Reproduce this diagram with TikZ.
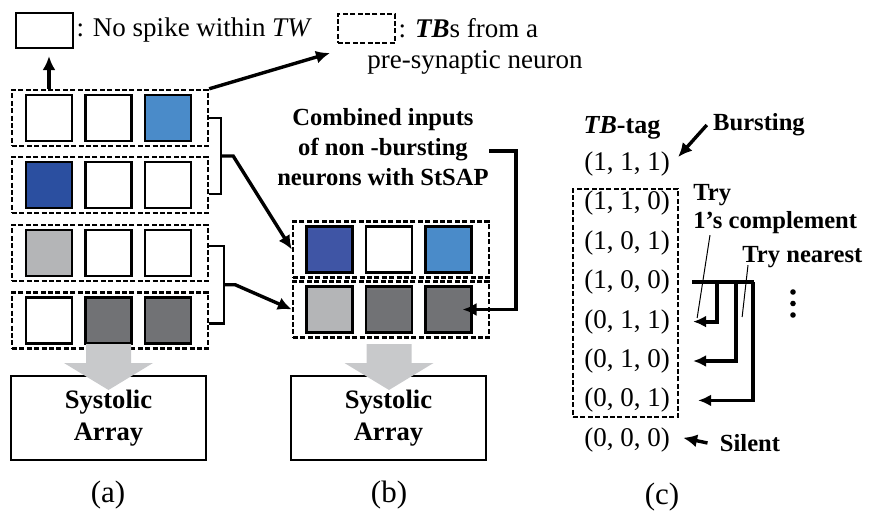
\documentclass[tikz,border=0pt]{standalone}
\usepackage{fontspec}
\setmainfont{Liberation Serif}
\usetikzlibrary{arrows.meta}

\definecolor{lblue}{RGB}{74,139,201}
\definecolor{dblue}{RGB}{43,79,160}
\definecolor{mblue}{RGB}{63,85,165}
\definecolor{lgray}{RGB}{180,181,183}
\definecolor{dgray}{RGB}{113,114,117}
\definecolor{flowgray}{RGB}{200,201,203}

\begin{document}
\begin{tikzpicture}[x=0.5pt, y=-0.5pt,
    cell/.style={draw, line width=1.4pt, minimum size=23pt, inner sep=0pt},
    tb/.style={draw, line width=1.2pt, dash pattern=on 2.5pt off 1.2pt, minimum width=98pt, minimum height=28pt, inner sep=0pt},
    conn/.style={line width=1.7pt, -{Latex[length=7pt,width=6.5pt]}},
    brk/.style={line width=1.1pt},
    hop/.style={line width=1.9pt},
    call/.style={line width=0.5pt},
    txt/.style={font=\fontsize{13.5}{16}\selectfont, inner sep=0pt},
    lbl/.style={font=\fontsize{12.3}{15}\selectfont\bfseries, inner sep=0pt, align=center},
    sys/.style={draw, line width=1.1pt, minimum width=97.5pt, minimum height=42pt, align=center, font=\fontsize{13.3}{16}\selectfont\bfseries},
    sub/.style={font=\fontsize{15.5}{18}\selectfont, inner sep=0pt}]
  \useasboundingbox (0,0) rectangle (879,515);

  % legend
  \node[draw, line width=1.1pt, minimum width=28.5pt, minimum height=17.5pt] (nospike) at (44.5,30.5) {};
  \node[txt, anchor=west] (nospiketxt) at ([xshift=1pt]nospike.east) {: No spike within \textit{TW}};
  \node[tb, minimum width=28.5pt, minimum height=14.5pt] (tbkey) at (366.5,28.5) {};
  \node[txt, anchor=west] (tbkeytxt) at ([xshift=1pt]tbkey.east) {: \textbf{\textit{TB}}s from a};
  \node[txt, anchor=west] (tbkeytxt2) at (367,62) {pre-synaptic neuron};

  % (a) TBs of four neurons
  \foreach \r/\y/\ca/\cb/\cc in {1/118/white/white/lblue, 2/185/dblue/white/white, 3/253/lgray/white/white, 4/320.5/white/dgray/dgray}{
    \node[cell, fill=\ca] (a\r1) at (49,\y) {};
    \node[cell, fill=\cb] (a\r2) at (108.5,\y) {};
    \node[cell, fill=\cc] (a\r3) at (168,\y) {};
    \node[tb] (ra\r) at (110,\y) {};
  }

  % (b) combined inputs
  \foreach \r/\y/\ca/\cb/\cc in {1/249.5/mblue/white/lblue, 2/309.5/lgray/dgray/dgray}{
    \node[cell, fill=\ca] (b\r1) at (329.5,\y) {};
    \node[cell, fill=\cb] (b\r2) at (389,\y) {};
    \node[cell, fill=\cc] (b\r3) at (448.5,\y) {};
    \node[tb] (rb\r) at (391,\y) {};
  }

  \draw[conn, shorten >=3.5pt] (a11 |- ra1.north) -- (a11 |- nospike.south);
  \coordinate (tbtip) at (330,53);
  \draw[conn] (ra1.north east) -- (tbtip);

  % brackets
  \draw[brk] (ra1.east) -- ++(12,0) |- ([yshift=-4.5pt]ra2.east) coordinate[pos=0.25] (bra);
  \draw[brk] ([yshift=3.5pt]ra3.east) -- ++(15,0) |- ([yshift=-1.5pt]ra4.east) coordinate[pos=0.25] (brb);
  \draw[conn] (bra) -- ++(12,0) -- (rb1.west);
  \draw[conn] (brb) -- ++(11,0) -- (rb2.west);

  \node[lbl] (comb) at (383,147) {Combined inputs\\of non -bursting\\neurons with StSAP};
  \draw[conn] ([yshift=-2pt]comb.east) -- ++(27,0) |- ([xshift=7pt]b23.center);

  % systolic arrays
  \node[sys] (sysa) at (108.5,418) {Systolic\\Array};
  \node[sys] (sysb) at (388.5,418) {Systolic\\Array};
  \foreach \cx in {108.5, 389}
    \fill[flowgray] (\cx-22.5,344) -- (\cx+22.5,344) -- (\cx+22.5,363) -- (\cx+44.5,363) -- (\cx,390) -- (\cx-44.5,363) -- (\cx-22.5,363) -- cycle;

  \node[sub] (capa) at (108,495) {(a)};
  \node[sub] (capb) at (389,495) {(b)};

  % (c) TB-tags
  \node[font=\fontsize{13}{16}\selectfont\bfseries, inner sep=0pt] (tag) at (622,128) {\textit{TB}-tag};
  \node[lbl] (burst) at (759,125) {Bursting};
  \foreach \pa/\pb/\pc [count=\i from 0] in {1/1/1, 1/1/0, 1/0/1, 1/0/0, 0/1/1, 0/1/0, 0/0/1, 0/0/0}
    \node[txt] (t\i) at (627,164+39.4*\i) {(\pa, \pb, \pc)};
  \node[tb, minimum width=52.5pt, minimum height=114pt] (grp) at (625.5,303) {};
  \draw[conn] ([xshift=-3pt]burst.west) -- ([xshift=4pt,yshift=3.5pt]t0.east);

  \node[lbl, align=left, anchor=west, font=\fontsize{12.3}{14}\selectfont\bfseries] (tryc) at (693,209) {Try\\1's complement};
  \node[lbl, anchor=west] (tryn) at (742,257) {Try nearest};

  \coordinate (hs) at ([xshift=11pt]t3.east);
  \draw[hop] (hs) -- ++(62,0);
  \draw[hop, -{Latex[length=6.5pt,width=6pt]}] ([xshift=12.5pt]hs) |- ([xshift=11.5pt]t4.east);
  \draw[hop, -{Latex[length=6.5pt,width=6pt]}] ([xshift=22pt]hs) |- ([xshift=11.5pt]t5.east);
  \draw[hop, -{Latex[length=6.5pt,width=6pt]}] ([xshift=30.5pt]hs) |- ([xshift=14pt]t6.east);
  \draw[call] ([xshift=8.5pt,yshift=-0.5pt]tryc.south west) -- ([xshift=13.5pt,yshift=1.8pt]t4.east);
  \draw[call] ([xshift=3pt,yshift=1.5pt]tryn.south west) -- ([xshift=36pt,yshift=2.3pt]t4.east);
  \foreach \d in {292,303.5,315}
    \fill (793,\d) circle (1.4pt);

  \node[lbl] (silent) at (750,443) {Silent};
  \draw[conn] ([xshift=-6pt]silent.west) -- ([xshift=6.5pt,yshift=1pt]t7.east);
  \node[sub] (capc) at (662,497) {(c)};
\end{tikzpicture}
\end{document}
